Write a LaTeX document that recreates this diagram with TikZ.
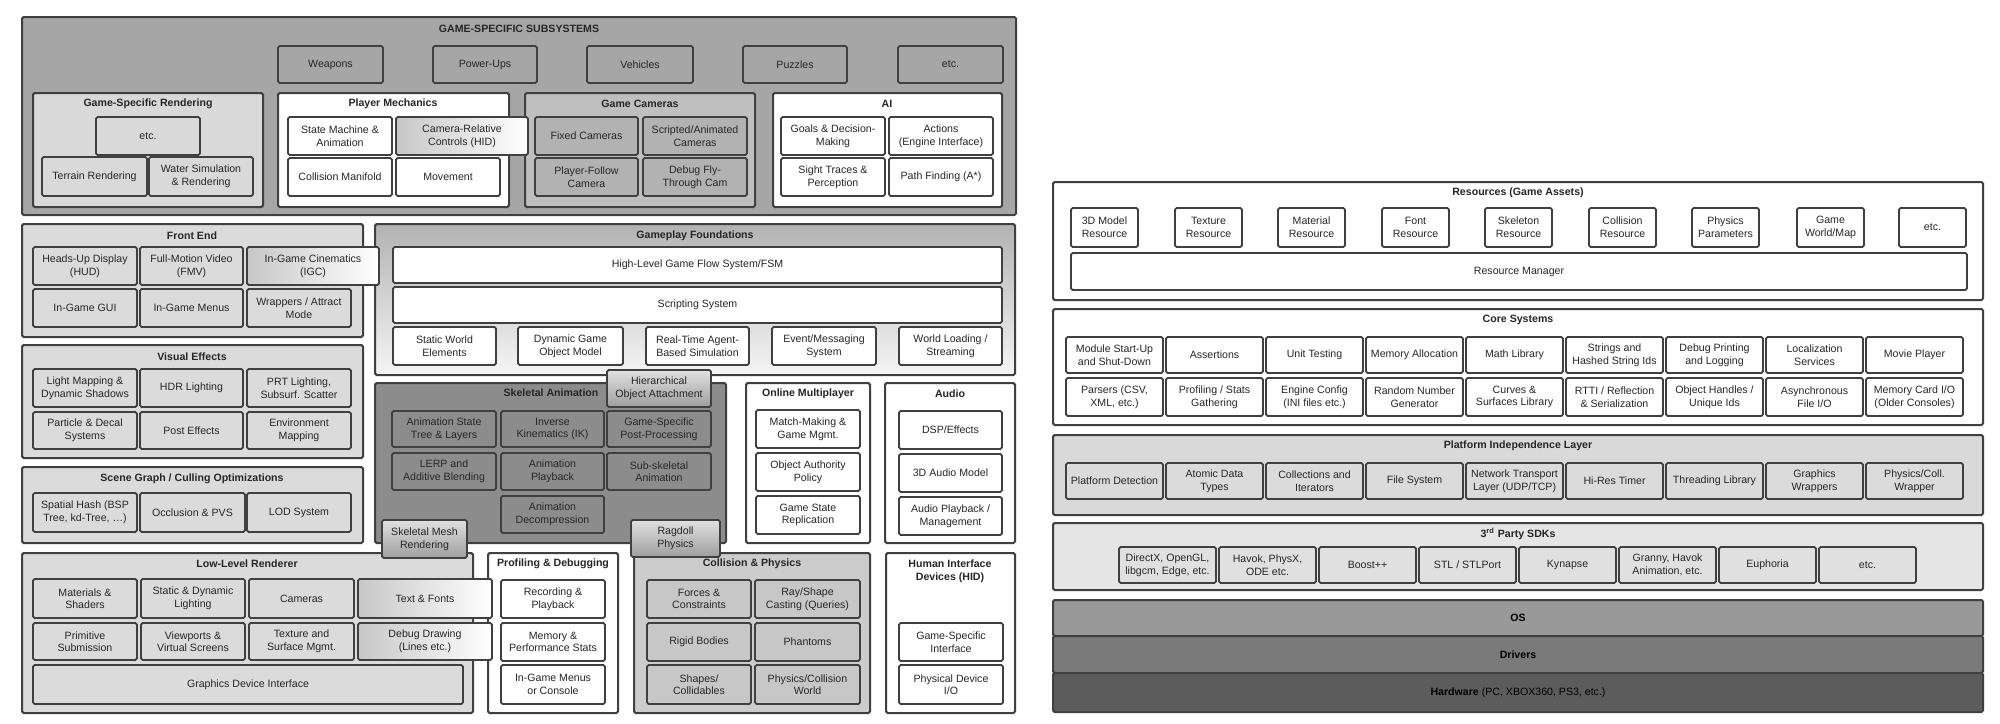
\documentclass[tikz,border=0pt]{standalone}
\usepackage{fontspec}
\setmainfont{Liberation Sans}
\newcommand\smallfs{\fontsize{5.3}{6.3}\selectfont}
\newcommand\Bx[7]{\node[#6,minimum width={(#4-#2)*0.5pt},minimum height={(#5-#3)*0.5pt}] (#1) at ({(#2+#4)/2},{(#3+#5)/2}) {#7};}
\begin{document}
\begin{tikzpicture}[x=0.5pt,y=-0.5pt,
  box/.style={rectangle,draw=black!75,line width=0.9pt,rounded corners=0.8pt,inner sep=0pt,outer sep=0pt,align=center,font=\smallfs,text=black!85},
  cont/.style={box,line width=1pt},
  ttl/.style={inner sep=0pt,font=\smallfs\bfseries,text=black!85,align=center},
  wh/.style={box,fill=white},
  lg/.style={box,fill=black!14},
  gradh/.style={box,left color=black!22,right color=white},
  gradv/.style={box,top color=black!12,bottom color=black!38}]
\fill[white] (0,0) rectangle (2000,723);
% ---------------- GAME-SPECIFIC SUBSYSTEMS
\Bx{gs}{22}{17}{1016}{215}{cont,fill=black!35}{}
\node[ttl] (gs-t) at (519,29) {GAME-SPECIFIC SUBSYSTEMS};
\Bx{weap}{278}{46}{383}{83}{box,fill=black!35}{Weapons}
\Bx{pow}{433}{46}{537}{83}{box,fill=black!35}{Power-Ups}
\Bx{veh}{587}{46}{693}{83}{box,fill=black!35}{Vehicles}
\Bx{puz}{743}{46}{847}{83}{box,fill=black!35}{Puzzles}
\Bx{gsetc}{898}{46}{1003}{83}{box,fill=black!35}{etc.}
% Game-specific rendering
\Bx{gsr}{33}{93}{263}{207}{cont,fill=black!15}{}
\node[ttl] (gsr-t) at (148,104) {Game-Specific Rendering};
\Bx{gsretc}{96}{117}{200}{155}{box,fill=black!15}{etc.}
\Bx{terr}{42}{157}{147}{196}{box,fill=black!15}{Terrain Rendering}
\Bx{water}{149}{157}{253}{196}{box,fill=black!15}{Water Simulation\\\& Rendering}
% Player mechanics
\Bx{pm}{278}{93}{509}{207}{cont,fill=white}{}
\node[ttl] (pm-t) at (393,104) {Player Mechanics};
\Bx{sma}{288}{117}{392}{155}{wh}{State Machine \&\\Animation}
\Bx{colm}{288}{158}{392}{196}{wh}{Collision Manifold}
\Bx{mov}{396}{158}{500}{196}{wh}{Movement}
% Game cameras
\Bx{gc}{525}{93}{755}{207}{cont,fill=black!25}{}
\node[ttl] (gc-t) at (640,104) {Game Cameras};
\Bx{fixc}{535}{117}{638}{155}{box,fill=black!30}{Fixed Cameras}
\Bx{scrc}{643}{117}{747}{155}{box,fill=black!30}{Scripted/Animated\\Cameras}
\Bx{pfc}{535}{158}{638}{196}{box,fill=black!30}{Player-Follow\\Camera}
\Bx{dfc}{643}{158}{747}{196}{box,fill=black!30}{Debug Fly-\\Through Cam}
% AI
\Bx{ai}{773}{93}{1002}{207}{cont,fill=white}{}
\node[ttl] (ai-t) at (887,104) {AI};
\Bx{goal}{781}{117}{885}{155}{wh}{Goals \& Decision-\\Making}
\Bx{act}{889}{117}{993}{155}{wh}{Actions\\(Engine Interface)}
\Bx{sight}{781}{158}{885}{196}{wh}{Sight Traces \&\\Perception}
\Bx{path}{889}{158}{993}{196}{wh}{Path Finding (A*)}
% ---------------- Front End
\Bx{fe}{22}{224}{363}{337}{cont,fill=black!14}{}
\node[ttl] (fe-t) at (192,236) {Front End};
\Bx{hud}{33}{247}{137}{285}{lg}{Heads-Up Display\\(HUD)}
\Bx{fmv}{140}{247}{243}{285}{lg}{Full-Motion Video\\(FMV)}
\Bx{igui}{33}{289}{137}{327}{lg}{In-Game GUI}
\Bx{imenu}{140}{289}{243}{327}{lg}{In-Game Menus}
\Bx{wrap}{247}{289}{351}{327}{lg}{Wrappers / Attract\\Mode}
% Visual effects
\Bx{vfx}{22}{345}{363}{458}{cont,fill=black!14}{}
\node[ttl] (vfx-t) at (192,357) {Visual Effects};
\Bx{lmap}{33}{369}{137}{407}{lg}{Light Mapping \&\\Dynamic Shadows}
\Bx{hdr}{140}{369}{243}{407}{lg}{HDR Lighting}
\Bx{prt}{247}{369}{351}{407}{lg}{PRT Lighting,\\Subsurf. Scatter}
\Bx{part}{33}{412}{137}{449}{lg}{Particle \& Decal\\Systems}
\Bx{post}{140}{412}{243}{449}{lg}{Post Effects}
\Bx{env}{247}{412}{351}{449}{lg}{Environment\\Mapping}
% Scene graph
\Bx{sg}{22}{467}{363}{543}{cont,fill=black!14}{}
\node[ttl] (sg-t) at (192,479) {Scene Graph / Culling Optimizations};
\Bx{hash}{33}{493}{137}{532}{lg}{Spatial Hash (BSP\\Tree, kd-Tree, \dots)}
\Bx{occ}{140}{493}{245}{532}{lg}{Occlusion \& PVS}
\Bx{lod}{247}{493}{351}{532}{lg}{LOD System}
% Low-level renderer
\Bx{llr}{22}{553}{473}{713}{cont,fill=black!14}{}
\node[ttl] (llr-t) at (247,564) {Low-Level Renderer};
\Bx{mat}{33}{579}{137}{618}{lg}{Materials \&\\Shaders}
\Bx{sdl}{141}{579}{245}{618}{lg}{Static \& Dynamic\\Lighting}
\Bx{cams}{249}{579}{354}{618}{lg}{Cameras}
\Bx{prim}{33}{623}{137}{660}{lg}{Primitive\\Submission}
\Bx{view}{141}{623}{245}{660}{lg}{Viewports \&\\Virtual Screens}
\Bx{tex}{249}{623}{354}{660}{lg}{Texture and\\Surface Mgmt.}
\Bx{gdi}{33}{665}{463}{704}{lg}{Graphics Device Interface}
% ---------------- Gameplay foundations
\Bx{gf}{375}{224}{1015}{375}{cont,top color=black!30,bottom color=black!4}{}
\node[ttl] (gf-t) at (695,236) {Gameplay Foundations};
\Bx{hlgf}{393}{247}{1002}{283}{wh}{High-Level Game Flow System/FSM}
\Bx{scr}{393}{287}{1002}{323}{wh}{Scripting System}
\Bx{swe}{393}{327}{496}{365}{wh}{Static World\\Elements}
\Bx{dgom}{518}{327}{623}{365}{wh}{Dynamic Game\\Object Model}
\Bx{rta}{646}{327}{749}{365}{wh}{Real-Time Agent-\\Based Simulation}
\Bx{evt}{772}{327}{876}{365}{wh}{Event/Messaging\\System}
\Bx{wls}{899}{327}{1002}{365}{wh}{World Loading /\\Streaming}
% Skeletal animation
\Bx{sa}{375}{383}{726}{543}{cont,fill=black!45}{}
\node[ttl] (sa-t) at (551,393) {Skeletal Animation};
\Bx{ast}{392}{411}{496}{447}{box,fill=black!45}{Animation State\\Tree \& Layers}
\Bx{ik}{501}{411}{604}{447}{box,fill=black!45}{Inverse\\Kinematics (IK)}
\Bx{gspp}{607}{411}{711}{447}{box,fill=black!45}{Game-Specific\\Post-Processing}
\Bx{lerp}{392}{453}{496}{490}{box,fill=black!45}{LERP and\\Additive Blending}
\Bx{apb}{501}{453}{604}{490}{box,fill=black!45}{Animation\\Playback}
\Bx{ssa}{607}{453}{711}{490}{box,fill=black!45}{Sub-skeletal\\Animation}
\Bx{adec}{501}{496}{604}{533}{box,fill=black!45}{Animation\\Decompression}
% Online multiplayer
\Bx{om}{746}{383}{870}{543}{cont,fill=white}{}
\node[ttl] (om-t) at (808,394) {Online Multiplayer};
\Bx{mm}{756}{410}{860}{448}{wh}{Match-Making \&\\Game Mgmt.}
\Bx{oap}{756}{453}{860}{491}{wh}{Object Authority\\Policy}
\Bx{gsrep}{756}{496}{860}{534}{wh}{Game State\\Replication}
% Audio
\Bx{au}{885}{383}{1015}{543}{cont,fill=white}{}
\node[ttl] (au-t) at (950,394) {Audio};
\Bx{dsp}{899}{411}{1002}{449}{wh}{DSP/Effects}
\Bx{a3d}{899}{454}{1002}{492}{wh}{3D Audio Model}
\Bx{apm}{899}{497}{1002}{535}{wh}{Audio Playback /\\Management}
% Profiling
\Bx{pd}{488}{553}{618}{713}{cont,fill=white}{}
\node[ttl] (pd-t) at (553,564) {Profiling \& Debugging};
\Bx{rec}{501}{580}{605}{618}{wh}{Recording \&\\Playback}
\Bx{mps}{501}{623}{605}{661}{wh}{Memory \&\\Performance Stats}
\Bx{igm}{501}{665}{605}{704}{wh}{In-Game Menus\\or Console}
% Collision & physics
\Bx{cp}{634}{553}{870}{713}{cont,fill=black!20}{}
\node[ttl] (cp-t) at (752,564) {Collision \& Physics};
\Bx{force}{647}{580}{751}{618}{box,fill=black!22}{Forces \&\\Constraints}
\Bx{ray}{755}{580}{860}{618}{box,fill=black!22}{Ray/Shape\\Casting (Queries)}
\Bx{rigid}{647}{623}{751}{661}{box,fill=black!22}{Rigid Bodies}
\Bx{phan}{755}{623}{860}{661}{box,fill=black!22}{Phantoms}
\Bx{shape}{647}{665}{751}{704}{box,fill=black!22}{Shapes/\\Collidables}
\Bx{pcw}{755}{665}{860}{704}{box,fill=black!22}{Physics/Collision\\World}
% HID
\Bx{hid}{886}{553}{1015}{713}{cont,fill=white}{}
\node[ttl] (hid-t) at (950,571) {Human Interface\\Devices (HID)};
\Bx{gsi}{899}{623}{1003}{661}{wh}{Game-Specific\\Interface}
\Bx{pdio}{899}{665}{1003}{704}{wh}{Physical Device\\I/O}
% ---------------- overlapping boxes
\Bx{crc}{396}{117}{528}{155}{gradh}{Camera-Relative\\Controls (HID)}
\Bx{igc}{247}{247}{379}{285}{gradh}{In-Game Cinematics\\(IGC)}
\Bx{txt}{358}{579}{492}{618}{gradh}{Text \& Fonts}
\Bx{dbgd}{358}{623}{492}{660}{gradh}{Debug Drawing\\(Lines etc.)}
\Bx{hoa}{607}{370}{711}{407}{gradv}{Hierarchical\\Object Attachment}
\Bx{smr}{382}{520}{467}{558}{gradv}{Skeletal Mesh\\Rendering}
\Bx{rag}{631}{520}{720}{557}{gradv}{Ragdoll\\Physics}
% ================= RIGHT SIDE
% Resources
\Bx{res}{1053}{182}{1983}{300}{cont,fill=white}{}
\node[ttl] (res-t) at (1518,193) {Resources (Game Assets)};
\Bx{r1}{1071}{208}{1138}{247}{wh}{3D Model\\Resource}
\Bx{r2}{1175}{208}{1242}{247}{wh}{Texture\\Resource}
\Bx{r3}{1278}{208}{1345}{247}{wh}{Material\\Resource}
\Bx{r4}{1382}{208}{1449}{247}{wh}{Font\\Resource}
\Bx{r5}{1485}{208}{1552}{247}{wh}{Skeleton\\Resource}
\Bx{r6}{1589}{208}{1656}{247}{wh}{Collision\\Resource}
\Bx{r7}{1692}{208}{1759}{247}{wh}{Physics\\Parameters}
\Bx{r8}{1797}{208}{1864}{247}{wh}{Game\\World/Map}
\Bx{r9}{1899}{208}{1966}{247}{wh}{etc.}
\Bx{rm}{1071}{253}{1967}{290}{wh}{Resource Manager}
% Core systems
\Bx{core}{1053}{309}{1983}{425}{cont,fill=white}{}
\node[ttl] (core-t) at (1518,320) {Core Systems};
\Bx{c1}{1066}{337}{1163}{373}{wh}{Module Start-Up\\and Shut-Down}
\Bx{c2}{1166}{337}{1263}{373}{wh}{Assertions}
\Bx{c3}{1266}{337}{1363}{373}{wh}{Unit Testing}
\Bx{c4}{1366}{337}{1463}{373}{wh}{Memory Allocation}
\Bx{c5}{1466}{337}{1563}{373}{wh}{Math Library}
\Bx{c6}{1566}{337}{1663}{373}{wh}{Strings and\\Hashed String Ids}
\Bx{c7}{1666}{337}{1763}{373}{wh}{Debug Printing\\and Logging}
\Bx{c8}{1766}{337}{1863}{373}{wh}{Localization\\Services}
\Bx{c9}{1866}{337}{1963}{373}{wh}{Movie Player}
\Bx{d1}{1066}{378}{1163}{416}{wh}{Parsers (CSV,\\XML, etc.)}
\Bx{d2}{1166}{378}{1263}{416}{wh}{Profiling / Stats\\Gathering}
\Bx{d3}{1266}{378}{1363}{416}{wh}{Engine Config\\(INI files etc.)}
\Bx{d4}{1366}{378}{1463}{416}{wh}{Random Number\\Generator}
\Bx{d5}{1466}{378}{1563}{416}{wh}{Curves \&\\Surfaces Library}
\Bx{d6}{1566}{378}{1663}{416}{wh}{RTTI / Reflection\\\& Serialization}
\Bx{d7}{1666}{378}{1763}{416}{wh}{Object Handles /\\Unique Ids}
\Bx{d8}{1766}{378}{1863}{416}{wh}{Asynchronous\\File I/O}
\Bx{d9}{1866}{378}{1963}{416}{wh}{Memory Card I/O\\(Older Consoles)}
% Platform independence
\Bx{pil}{1053}{435}{1983}{515}{cont,fill=black!15}{}
\node[ttl] (pil-t) at (1518,446) {Platform Independence Layer};
\Bx{p1}{1066}{463}{1163}{499}{lg}{Platform Detection}
\Bx{p2}{1166}{463}{1263}{499}{lg}{Atomic Data\\Types}
\Bx{p3}{1266}{463}{1363}{499}{lg}{Collections and\\Iterators}
\Bx{p4}{1366}{463}{1463}{499}{lg}{File System}
\Bx{p5}{1466}{463}{1563}{499}{lg}{Network Transport\\Layer (UDP/TCP)}
\Bx{p6}{1566}{463}{1663}{499}{lg}{Hi-Res Timer}
\Bx{p7}{1666}{463}{1763}{499}{lg}{Threading Library}
\Bx{p8}{1766}{463}{1863}{499}{lg}{Graphics\\Wrappers}
\Bx{p9}{1866}{463}{1963}{499}{lg}{Physics/Coll.\\Wrapper}
% 3rd party SDKs
\Bx{sdk}{1053}{523}{1983}{590}{cont,fill=black!10}{}
\node[ttl] (sdk-t) at (1518,534) {3\textsuperscript{rd} Party SDKs};
\Bx{s1}{1119}{547}{1216}{583}{box,fill=black!12}{DirectX, OpenGL,\\libgcm, Edge, etc.}
\Bx{s2}{1219}{547}{1316}{583}{box,fill=black!12}{Havok, PhysX,\\ODE etc.}
\Bx{s3}{1319}{547}{1416}{583}{box,fill=black!12}{Boost++}
\Bx{s4}{1419}{547}{1516}{583}{box,fill=black!12}{STL / STLPort}
\Bx{s5}{1519}{547}{1616}{583}{box,fill=black!12}{Kynapse}
\Bx{s6}{1619}{547}{1716}{583}{box,fill=black!12}{Granny, Havok\\Animation, etc.}
\Bx{s7}{1719}{547}{1816}{583}{box,fill=black!12}{Euphoria}
\Bx{s8}{1819}{547}{1916}{583}{box,fill=black!12}{etc.}
% OS / Drivers / Hardware
\Bx{os}{1053}{600}{1983}{636}{cont,fill=black!40,text=black}{\textbf{OS}}
\Bx{drv}{1053}{636}{1983}{673}{cont,fill=black!52,text=black}{\textbf{Drivers}}
\Bx{hw}{1053}{673}{1983}{712}{cont,fill=black!64,text=black}{\textbf{Hardware} (PC, XBOX360, PS3, etc.)}
\end{tikzpicture}
\end{document}
